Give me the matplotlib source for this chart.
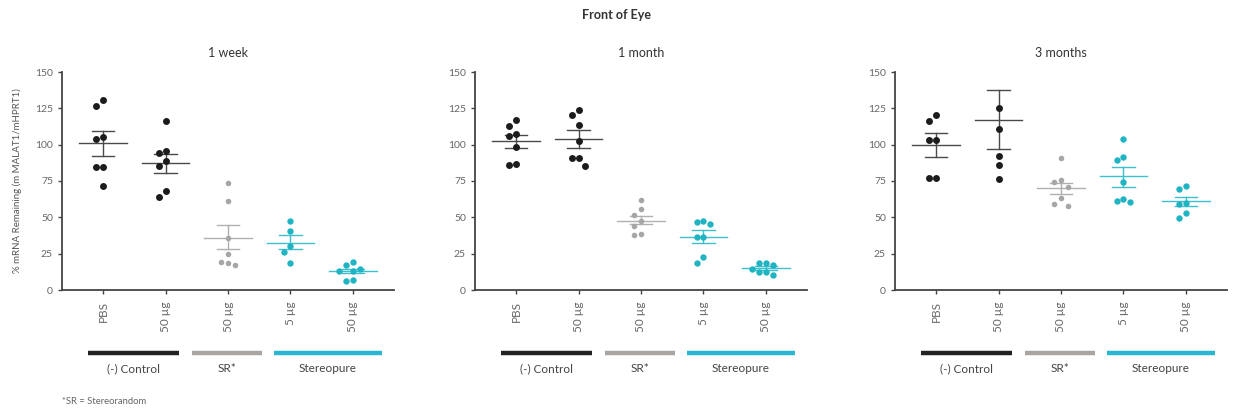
import matplotlib
matplotlib.use("Agg")
import matplotlib.pyplot as plt
import matplotlib.transforms as mtransforms
import numpy as np

plt.rcParams['font.family'] = ['Lato', 'DejaVu Sans']

# groups along the x axis
categories = ["PBS", "50 µg", "50 µg", "5 µg", "50 µg"]
group_kind = ["ctrl", "ctrl", "sr", "ster", "ster"]
timepoints = ["1 week", "1 month", "3 months"]

# individual measurements, % mRNA remaining
week1 = [
    [130.9, 126.3, 104.1, 105.0, 84.6, 84.6, 71.4],
    [116.1, 94.0, 95.6, 88.7, 85.3, 68.0, 64.0],
    [73.3, 61.5, 35.7, 24.9, 19.1, 17.5, 18.7],
    [47.2, 40.3, 30.2, 26.3, 18.4],
    [19.6, 17.3, 13.4, 13.4, 14.7, 6.0, 6.9],
]
month1 = [
    [117.1, 112.7, 107.6, 105.8, 98.6, 86.3, 87.0],
    [123.8, 120.6, 113.7, 102.5, 90.7, 90.7, 85.0],
    [61.8, 55.6, 51.6, 47.5, 44.0, 37.7, 38.2],
    [47.7, 45.1, 46.5, 36.8, 36.8, 22.7, 18.5],
    [18.8, 16.9, 18.8, 12.7, 12.3, 10.4, 14.6],
]
month3 = [
    [116.6, 120.7, 103.2, 103.2, 77.2, 77.4],
    [124.9, 110.8, 91.9, 85.9, 76.3],
    [90.8, 74.4, 75.6, 71.0, 63.6, 57.8, 59.0],
    [104.1, 89.6, 91.2, 74.4, 62.9, 60.4, 61.5],
    [69.6, 71.7, 60.1, 59.2, 53.0, 49.8],
]

# mean and SEM bounds as plotted
means = [
    [101.4, 87.6, 35.9, 32.5, 12.9],
    [102.5, 103.9, 47.7, 36.6, 15.0],
    [99.5, 117.0, 70.5, 78.1, 61.0],
]
sem_hi = [
    [109.2, 93.3, 44.9, 37.6, 14.3],
    [106.5, 110.0, 51.2, 41.0, 16.4],
    [107.8, 137.3, 73.7, 84.3, 64.0],
]
sem_lo = [
    [92.4, 80.6, 27.9, 27.9, 11.5],
    [97.9, 97.5, 45.1, 32.4, 13.6],
    [91.7, 96.8, 66.1, 71.2, 58.0],
]

group_names = ["(-) Control", "SR*", "Stereopure"]
group_span = [(-0.25, 1.22), (1.42, 2.55), (2.73, 4.47)]

point_color = {"ctrl": "#1c1c1c", "sr": "#a6a6a6", "ster": "#20b4c2"}
mean_color = {"ctrl": "#4a4a4a", "sr": "#b0b0b0", "ster": "#3cc0cc"}
bar_colors = ["#222222", "#a9a5a2", "#2ab6d0"]
point_size = {"ctrl": 5.0, "sr": 4.0, "ster": 4.6}


def swarm(values, step=0.11, ry=6.0):
    order = np.argsort(values)[::-1]
    placed = []
    xs = np.zeros(len(values))
    cands = [0, -1, 1, -2, 2, -3, 3]
    for i in order:
        v = values[i]
        for c in cands:
            dx = c * step
            ok = all(not (abs(v - pv) < ry and abs(dx - px) < step * 0.9)
                     for px, pv in placed)
            if ok:
                break
        placed.append((dx, v))
        xs[i] = dx
    return xs


fig = plt.figure(figsize=(12.34, 4.12), dpi=100)
lefts = [62, 475, 895]
width = 332
all_data = [week1, month1, month3]

for p, (data, title) in enumerate(zip(all_data, timepoints)):
    ax = fig.add_axes([lefts[p] / 1234, 122 / 412, width / 1234, 218 / 412])
    for i, vals in enumerate(data):
        kind = group_kind[i]
        xs = i + swarm(vals)
        ax.plot(xs, vals, 'o', color=point_color[kind],
                markersize=point_size[kind], markeredgewidth=0, zorder=3)
        mc = mean_color[kind]
        ax.plot([i - 0.38, i + 0.38], [means[p][i]] * 2, color=mc, lw=1.0, zorder=2)
        ax.plot([i, i], [sem_lo[p][i], sem_hi[p][i]], color=mc, lw=1.0, zorder=2)
        for yv in (sem_lo[p][i], sem_hi[p][i]):
            ax.plot([i - 0.18, i + 0.18], [yv, yv], color=mc, lw=1.0, zorder=2)

    ax.set_xlim(-0.66, 4.66)
    ax.set_ylim(0, 150)
    ax.set_yticks(np.arange(0, 151, 25))
    ax.set_xticks(range(len(categories)))
    ax.set_xticklabels(categories, rotation=90, va='top', ha='center')
    ax.tick_params(axis='both', labelcolor='#666666',
                   color='#444444', length=3, width=1)
    ax.tick_params(axis='x', labelsize=8.5, pad=5)
    ax.tick_params(axis='y', labelsize=7.5)
    for s in ('top', 'right'):
        ax.spines[s].set_visible(False)
    for s in ('left', 'bottom'):
        ax.spines[s].set_color('#444444')
        ax.spines[s].set_linewidth(1.3)
    ax.set_title(title, fontsize=9, color='#333333', pad=11)
    if p == 0:
        ax.set_ylabel("% mRNA Remaining (m MALAT1/mHPRT1)", fontsize=7,
                      color='#555555', labelpad=9)

    # group bars under the axis
    trans = mtransforms.blended_transform_factory(ax.transData, ax.transAxes)
    for (x0, x1), name, col in zip(group_span, group_names, bar_colors):
        ax.plot([x0, x1], [-0.29, -0.29], color=col, lw=3.2,
                transform=trans, clip_on=False, solid_capstyle='butt')
        ax.text((x0 + x1) / 2, -0.362, name, transform=trans, ha='center',
                va='center', fontsize=8.5, color='#444444')

fig.text(617 / 1234, 1 - 15 / 412, "Front of Eye", ha='center', va='center',
         fontsize=9, fontweight='bold', color='#333333')
fig.text(62 / 1234, 1 - 402 / 412, "*SR = Stereorandom", ha='left',
         va='center', fontsize=6.8, color='#666666')

fig.savefig("out.png", dpi=100, facecolor='white')
